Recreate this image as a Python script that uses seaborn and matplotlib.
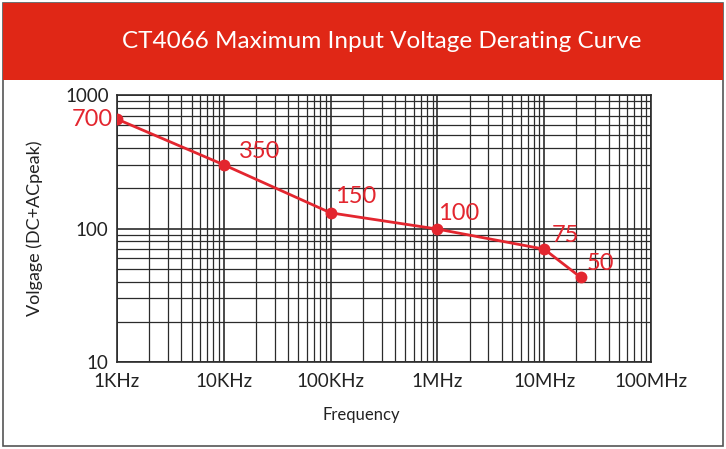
import pandas as pd
import numpy as np
import matplotlib
matplotlib.use('Agg')
import matplotlib.pyplot as plt
import matplotlib.ticker as mticker
from matplotlib.patches import Rectangle
import seaborn as sns

# data
freq = [1e3, 1e4, 1e5, 1e6, 1e7, 2.2e7]
volt = [660, 300, 131, 99, 70, 43]
point_labels = ['700', '350', '150', '100', '75', '50']

x_ticks = [1e3, 1e4, 1e5, 1e6, 1e7, 1e8]
x_ticklabels = ['1KHz', '10KHz', '100KHz', '1MHz', '10MHz', '100MHz']
y_ticks = [10, 100, 1000]
y_ticklabels = ['10', '100', '1000']

# label offsets in pixels (dx, dy), layout only
label_offsets = [(-4, 0), (15, 13), (4, 16), (1, 16), (8, 14), (6, 14)]
label_ha = ['right', 'left', 'left', 'left', 'left', 'left']

df = pd.DataFrame({'freq': freq, 'volt': volt})

sns.set_style('white')
plt.rcParams['font.family'] = ['Lato', 'DejaVu Sans']

red = '#e3262f'
header_red = '#e02716'
grid_col = '#2b2b2b'

fig = plt.figure(figsize=(7.26, 4.49), dpi=100)

# outer frame and header band
fig.patches.append(Rectangle((3/726, 3/449), 720/726, 443/449, transform=fig.transFigure,
                             fill=False, edgecolor='#555555', linewidth=1.2))
fig.patches.append(Rectangle((3/726, 1 - 80/449), 720/726, 77/449, transform=fig.transFigure,
                             facecolor=header_red, edgecolor='none'))
fig.text(382/726, 1 - 41/449, 'CT4066 Maximum Input Voltage Derating Curve',
         color='white', fontsize=17.5, ha='center', va='center')

ax = fig.add_axes([117/726, 1 - 362/449, 534/726, 267/449])
ax.set_xscale('log')
ax.set_yscale('log')
ax.set_xlim(1e3, 1e8)
ax.set_ylim(10, 1000)

ax.xaxis.set_minor_locator(mticker.LogLocator(base=10, subs=np.arange(2, 10)))
ax.yaxis.set_minor_locator(mticker.LogLocator(base=10, subs=np.arange(2, 10)))
ax.grid(True, which='major', color=grid_col, linewidth=1.2)
ax.grid(True, which='minor', color=grid_col, linewidth=0.9)
ax.set_axisbelow(True)
for s in ax.spines.values():
    s.set_color(grid_col)
    s.set_linewidth(1.2)

sns.lineplot(data=df, x='freq', y='volt', ax=ax, color=red, linewidth=2,
             marker='o', markersize=8.5, markeredgewidth=0, zorder=5)

for xv, yv, lab, (dx, dy), ha in zip(freq, volt, point_labels, label_offsets, label_ha):
    ax.annotate(lab, (xv, yv), xytext=(dx * 0.72, dy * 0.72), textcoords='offset points',
                ha=ha, va='center', color=red, fontsize=17, zorder=6)

ax.set_xticks(x_ticks)
ax.set_xticklabels(x_ticklabels)
ax.set_yticks(y_ticks)
ax.set_yticklabels(y_ticklabels)
ax.xaxis.set_minor_formatter(mticker.NullFormatter())
ax.yaxis.set_minor_formatter(mticker.NullFormatter())
ax.tick_params(which='both', length=0)
ax.tick_params(axis='x', pad=8, labelsize=13.5, labelcolor='#222222')
ax.tick_params(axis='y', pad=6, labelsize=13.5, labelcolor='#222222')

ax.set_xlabel('Frequency', fontsize=12, color='#222222', labelpad=10)
ax.xaxis.set_label_coords((361 - 117) / 534, -0.17)
ax.set_ylabel('Volgage (DC+ACpeak)', fontsize=13, color='#222222', labelpad=16)

fig.savefig('out.png', dpi=100)
plt.close(fig)
